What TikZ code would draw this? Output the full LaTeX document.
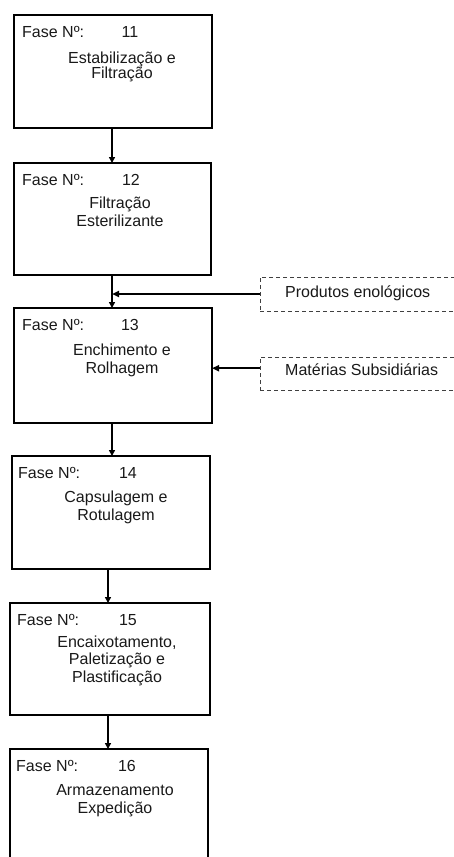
\documentclass[tikz,border=0pt]{standalone}
\usepackage{fontspec}
\setmainfont{Liberation Sans}
\usetikzlibrary{arrows.meta,calc}
\begin{document}
\begin{tikzpicture}[x=1pt,y=-1pt,
  phase/.style={draw=black, line width=1.8pt, inner sep=0pt, outer sep=0pt, anchor=north west},
  supply/.style={draw=black!75, dash pattern=on 4pt off 3pt, line width=1pt, inner sep=0pt, outer sep=0pt, anchor=north west},
  lbl/.style={font=\fontsize{16}{18}\selectfont, text=black!90, inner sep=0pt, anchor=base},
  lblw/.style={lbl, anchor=base west},
  flow/.style={line width=1.8pt, -{Triangle[length=6pt,width=6pt]}},
  feed/.style={line width=1.8pt, -{Triangle[length=7pt,width=6pt]}}
]
\useasboundingbox (0,0) rectangle (454,857);
\clip (0,0) rectangle (454,857);

% vertical flow axes
\coordinate (ax1) at (112,0);
\coordinate (ax2) at (108,0);

% phase boxes
\node[phase, minimum width=198pt, minimum height=113pt] (b11) at (14,15) {};
\node[phase, minimum width=197pt, minimum height=112pt] (b12) at (14,163) {};
\node[phase, minimum width=198pt, minimum height=115pt] (b13) at (14,308) {};
\node[phase, minimum width=198pt, minimum height=113pt] (b14) at (12,456) {};
\node[phase, minimum width=200pt, minimum height=112pt] (b15) at (10,603) {};
\node[phase, minimum width=198pt, minimum height=140pt] (b16) at (10,749) {};

% phase 11
\node[lblw] (f11) at (22,37.5) {Fase Nº:};
\node[lbl] (n11) at (130,37.5) {11};
\node[lbl] (t11a) at (122,63.5) {Estabilização e};
\node[lbl] (t11b) at (122,78.5) {Filtração};

% phase 12
\node[lblw] (f12) at (22,185.5) {Fase Nº:};
\node[lbl] (n12) at (131,185.5) {12};
\node[lbl] (t12a) at (120,208.5) {Filtração};
\node[lbl] (t12b) at (120,226.5) {Esterilizante};

% phase 13
\node[lblw] (f13) at (22,330.5) {Fase Nº:};
\node[lbl] (n13) at (130,330.5) {13};
\node[lbl] (t13a) at (122,355.5) {Enchimento e};
\node[lbl] (t13b) at (122,373.5) {Rolhagem};

% phase 14
\node[lblw] (f14) at (18,478.5) {Fase Nº:};
\node[lbl] (n14) at (128,478.5) {14};
\node[lbl] (t14a) at (116,502.5) {Capsulagem e};
\node[lbl] (t14b) at (116,520.5) {Rotulagem};

% phase 15
\node[lblw] (f15) at (17,625.5) {Fase Nº:};
\node[lbl] (n15) at (128,625.5) {15};
\node[lbl] (t15a) at (117,647.5) {Encaixotamento,};
\node[lbl] (t15b) at (117,664.5) {Paletização e};
\node[lbl] (t15c) at (117,682.5) {Plastificação};

% phase 16
\node[lblw] (f16) at (16,771.5) {Fase Nº:};
\node[lbl] (n16) at (127,771.5) {16};
\node[lbl] (t16a) at (115,795.5) {Armazenamento};
\node[lbl] (t16b) at (115,813.5) {Expedição};

% supply boxes
\node[supply, minimum width=210pt, minimum height=34pt] (prod) at (260,277) {};
\node[lblw] (prodt) at (285,297.5) {Produtos enológicos};
\node[supply, minimum width=210pt, minimum height=33pt] (mat) at (260,357) {};
\node[lblw] (matt) at (285,375.5) {Matérias Subsidiárias};

% main flow
\draw[flow] (b11.south -| ax1) -- (b12.north -| ax1);
\draw[flow] (b12.south -| ax1) -- (b13.north -| ax1);
\draw[flow] (b13.south -| ax1) -- (b14.north -| ax1);
\draw[flow] (b14.south -| ax2) -- (b15.north -| ax2);
\draw[flow] (b15.south -| ax2) -- (b16.north -| ax2);

% inputs
\draw[feed] (prod.west) -- (prod.west -| ax1);
\coordinate (matin) at ($(mat.north west)!0.34!(mat.south west)$);
\draw[feed] (matin) -- (matin -| b13.east);
\end{tikzpicture}
\end{document}
